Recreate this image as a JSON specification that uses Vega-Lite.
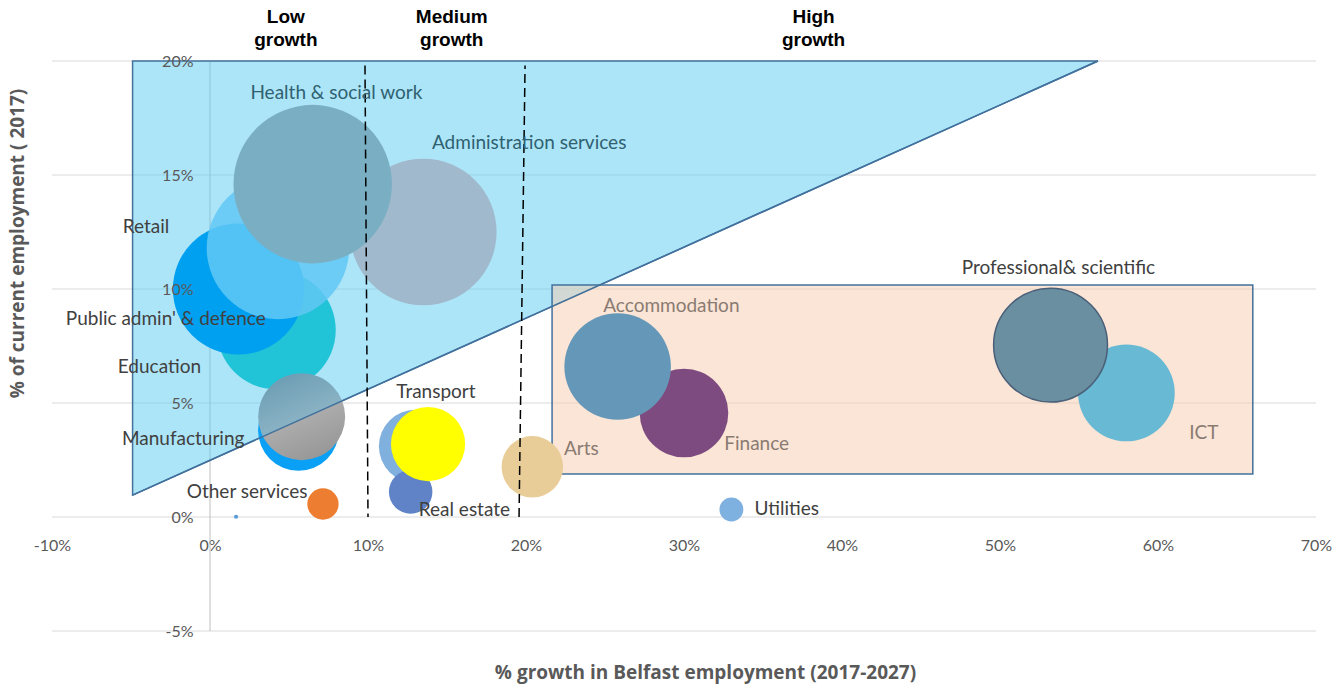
{
  "$schema": "https://vega.github.io/schema/vega-lite/v6.json",
  "width": 1264,
  "height": 570,
  "autosize": {"type": "none"},
  "padding": {"left": 52, "top": 61, "right": 19, "bottom": 53},
  "background": "white",
  "config": {
    "view": {"stroke": null},
    "axisX": {
      "format": ".0%",
      "labelExpr": "replace(datum.label, '\u2212', '-')",
      "offset": -114,
      "grid": false,
      "domain": false,
      "ticks": false,
      "tickSize": 0,
      "labelFlush": false,
      "labelOverlap": false,
      "labelPadding": 20,
      "labelFont": "Lato",
      "labelFontSize": 16,
      "labelColor": "#595959",
      "titleFont": "Open Sans",
      "titleFontSize": 19,
      "titleFontWeight": "bold",
      "titleColor": "#595959",
      "titleX": 653,
      "titleY": 155,
      "titleAlign": "center",
      "titleBaseline": "middle"
    },
    "axisY": {
      "format": ".0%",
      "labelExpr": "replace(datum.label, '\u2212', '-')",
      "offset": -158,
      "grid": false,
      "domain": false,
      "ticks": false,
      "tickSize": 0,
      "labelFlush": false,
      "labelOverlap": false,
      "labelPadding": 17,
      "labelFont": "Lato",
      "labelFontSize": 16,
      "labelColor": "#595959",
      "titleFont": "Open Sans",
      "titleFontSize": 19,
      "titleFontWeight": "bold",
      "titleColor": "#595959",
      "titleAngle": -90,
      "titleX": -193,
      "titleY": 182,
      "titleAlign": "center",
      "titleBaseline": "middle"
    }
  },
  "datasets": {
    "gridY": [
      {"y": -0.05}, {"y": 0}, {"y": 0.05}, {"y": 0.1}, {"y": 0.15}, {"y": 0.2}
    ],
    "zeroX": [
      {"x": 0}
    ],
    "bubbles": [
      {"sector": "Education", "growth": 0.042, "share": 0.082},
      {"sector": "Public admin' & defence", "growth": 0.018, "share": 0.100},
      {"sector": "Retail", "growth": 0.043, "share": 0.118},
      {"sector": "Administration services", "growth": 0.135, "share": 0.125},
      {"sector": "Health & social work", "growth": 0.065, "share": 0.146},
      {"sector": "Manufacturing", "growth": 0.056, "share": 0.038},
      {"sector": "Transport", "growth": 0.130, "share": 0.031},
      {"sector": "Real estate", "growth": 0.127, "share": 0.011},
      {"sector": "Transport (series 2)", "growth": 0.138, "share": 0.032},
      {"sector": "Other services", "growth": 0.0715, "share": 0.0057},
      {"sector": "Unlabelled", "growth": 0.0165, "share": 0.0001},
      {"sector": "Arts", "growth": 0.204, "share": 0.022},
      {"sector": "Utilities", "growth": 0.330, "share": 0.0033},
      {"sector": "Finance", "growth": 0.300, "share": 0.0456},
      {"sector": "Accommodation", "growth": 0.258, "share": 0.066},
      {"sector": "ICT", "growth": 0.580, "share": 0.0544},
      {"sector": "Professional & scientific", "growth": 0.532, "share": 0.0754}
    ],
    "textured": [
      {"sector": "Manufacturing (series 2)", "growth": 0.058, "share": 0.044}
    ],
    "triangle": [
      {"x": -0.049, "top": 0.2, "bottom": 0.0096},
      {"x": 0.562, "top": 0.2, "bottom": 0.2}
    ],
    "edge": [
      {"x": -0.049, "y": 0.0096},
      {"x": 0.562, "y": 0.2}
    ],
    "box": [
      {"x1": 0.2165, "x2": 0.660, "y1": 0.0189, "y2": 0.1018}
    ],
    "dividers": [
      {"line": "a", "x": 0.0981, "y": 0.198},
      {"line": "a", "x": 0.1000, "y": 0.0},
      {"line": "b", "x": 0.1994, "y": 0.198},
      {"line": "b", "x": 0.1956, "y": 0.0}
    ],
    "labels": [
      {"label": "Health & social work", "lx": 0.080, "ly": 0.186, "zone": "triangle"},
      {"label": "Administration services", "lx": 0.202, "ly": 0.164, "zone": "triangle"},
      {"label": "Retail", "lx": -0.0405, "ly": 0.127, "zone": "none"},
      {"label": "Public admin' & defence", "lx": -0.028, "ly": 0.087, "zone": "none"},
      {"label": "Education", "lx": -0.032, "ly": 0.066, "zone": "none"},
      {"label": "Manufacturing", "lx": -0.017, "ly": 0.034, "zone": "none"},
      {"label": "Transport", "lx": 0.143, "ly": 0.055, "zone": "none"},
      {"label": "Other services", "lx": 0.0235, "ly": 0.011, "zone": "none"},
      {"label": "Real estate", "lx": 0.161, "ly": 0.003, "zone": "none"},
      {"label": "Arts", "lx": 0.235, "ly": 0.030, "zone": "rect"},
      {"label": "Accommodation", "lx": 0.292, "ly": 0.0925, "zone": "rect"},
      {"label": "Finance", "lx": 0.346, "ly": 0.032, "zone": "rect"},
      {"label": "Utilities", "lx": 0.365, "ly": 0.0035, "zone": "none"},
      {"label": "Professional& scientific", "lx": 0.537, "ly": 0.109, "zone": "none"},
      {"label": "ICT", "lx": 0.629, "ly": 0.037, "zone": "rect"}
    ],
    "headers": [
      {"text": "Low\ngrowth", "hx": 0.048, "hy": 0.2193},
      {"text": "Medium\ngrowth", "hx": 0.153, "hy": 0.2193},
      {"text": "High\ngrowth", "hx": 0.382, "hy": 0.2193}
    ]
  },
  "layer": [
    {
      "data": {"name": "gridY"},
      "mark": {"type": "rule", "stroke": "#D9D9D9", "strokeWidth": 1},
      "encoding": {
        "y": {"field": "y", "type": "quantitative", "title": "% of current employment ( 2017)",
          "scale": {"domain": [-0.05, 0.2], "nice": false, "zero": false},
          "axis": {"values": [-0.05, 0, 0.05, 0.1, 0.15, 0.2], "zindex": 2}}
      }
    },
    {
      "data": {"name": "zeroX"},
      "mark": {"type": "rule", "stroke": "#BFBFBF", "strokeWidth": 1},
      "encoding": {
        "x": {"field": "x", "type": "quantitative", "title": "% growth in Belfast employment (2017-2027)",
          "scale": {"domain": [-0.1, 0.7], "nice": false, "zero": false},
          "axis": {"values": [-0.1, 0, 0.1, 0.2, 0.3, 0.4, 0.5, 0.6, 0.7]}}
      }
    },
    {
      "data": {"name": "triangle"},
      "mark": {"type": "area", "fill": "#5CCBF2", "fillOpacity": 0.5, "stroke": "#41719C", "strokeWidth": 1.5},
      "encoding": {
        "x": {"field": "x", "type": "quantitative", "title": "% growth in Belfast employment (2017-2027)",
          "scale": {"domain": [-0.1, 0.7], "nice": false, "zero": false}},
        "y": {"field": "top", "type": "quantitative", "title": "% of current employment ( 2017)",
          "scale": {"domain": [-0.05, 0.2], "nice": false, "zero": false}},
        "y2": {"field": "bottom"}
      }
    },
    {
      "data": {"name": "box"},
      "mark": {"type": "rect", "fill": "#F7CBAD", "fillOpacity": 0.5, "stroke": "#41719C", "strokeWidth": 1.5},
      "encoding": {
        "x": {"field": "x1", "type": "quantitative", "title": "% growth in Belfast employment (2017-2027)", "scale": {"domain": [-0.1, 0.7], "nice": false, "zero": false}},
        "x2": {"field": "x2"},
        "y": {"field": "y1", "type": "quantitative", "title": "% of current employment ( 2017)", "scale": {"domain": [-0.05, 0.2], "nice": false, "zero": false}},
        "y2": {"field": "y2"}
      }
    },
    {
      "data": {"name": "bubbles"},
      "mark": {"type": "circle", "strokeWidth": 0},
      "encoding": {
        "x": {"field": "growth", "type": "quantitative", "title": "% growth in Belfast employment (2017-2027)", "scale": {"domain": [-0.1, 0.7], "nice": false, "zero": false}},
        "y": {"field": "share", "type": "quantitative", "title": "% of current employment ( 2017)", "scale": {"domain": [-0.05, 0.2], "nice": false, "zero": false}},
        "size": {"field": "share", "type": "quantitative", "scale": {"type": "linear", "domain": [0, 0.2], "range": [0, 34400]}, "legend": null},
        "color": {
          "field": "sector", "type": "nominal", "legend": null,
          "scale": {
            "domain": ["Education", "Public admin' & defence", "Retail", "Administration services", "Health & social work", "Manufacturing", "Transport", "Real estate", "Transport (series 2)", "Other services", "Unlabelled", "Arts", "Utilities", "Finance", "Accommodation", "ICT", "Professional & scientific"],
            "range": ["#21C3D6", "#00A0F0", "#62C8F5", "#A0B9CC", "#7AAFC3", "#0AA0F5", "#7FB0DE", "#5F83C6", "#FFFF00", "#ED7D31", "#5B9BD5", "#E8CD98", "#7EB1DF", "#7D4B7F", "#6597B8", "#68B9D4", "#6A8FA1"]
          }
        },
        "opacity": {"condition": {"test": "datum.sector === 'Retail'", "value": 0.85}, "value": 1}
      }
    },
    {
      "data": {"name": "textured"},
      "mark": {
        "type": "circle", "opacity": 1, "strokeWidth": 0,
        "fill": {"gradient": "linear", "x1": 0.3, "y1": 0.05, "x2": 0.7, "y2": 0.95,
          "stops": [
            {"offset": 0, "color": "#6F9FB5"},
            {"offset": 0.53, "color": "#8AB2C4"},
            {"offset": 0.53, "color": "#ABABAB"},
            {"offset": 1, "color": "#989898"}
          ]}
      },
      "encoding": {
        "x": {"field": "growth", "type": "quantitative", "title": "% growth in Belfast employment (2017-2027)", "scale": {"domain": [-0.1, 0.7], "nice": false, "zero": false}},
        "y": {"field": "share", "type": "quantitative", "title": "% of current employment ( 2017)", "scale": {"domain": [-0.05, 0.2], "nice": false, "zero": false}},
        "size": {"field": "share", "type": "quantitative", "legend": null}
      }
    },
    {
      "data": {"name": "bubbles"},
      "transform": [{"filter": "datum.sector === 'Professional & scientific'"}],
      "mark": {"type": "point", "filled": false, "opacity": 1, "stroke": "#4A5F78", "strokeWidth": 1.5},
      "encoding": {
        "x": {"field": "growth", "type": "quantitative", "title": "% growth in Belfast employment (2017-2027)", "scale": {"domain": [-0.1, 0.7], "nice": false, "zero": false}},
        "y": {"field": "share", "type": "quantitative", "title": "% of current employment ( 2017)", "scale": {"domain": [-0.05, 0.2], "nice": false, "zero": false}},
        "size": {"field": "share", "type": "quantitative", "legend": null}
      }
    },
    {
      "data": {"name": "edge"},
      "mark": {"type": "line", "stroke": "#41719C", "strokeWidth": 1.5},
      "encoding": {
        "x": {"field": "x", "type": "quantitative", "title": "% growth in Belfast employment (2017-2027)", "scale": {"domain": [-0.1, 0.7], "nice": false, "zero": false}},
        "y": {"field": "y", "type": "quantitative", "title": "% of current employment ( 2017)", "scale": {"domain": [-0.05, 0.2], "nice": false, "zero": false}}
      }
    },
    {
      "data": {"name": "dividers"},
      "mark": {"type": "line", "stroke": "#000000", "strokeWidth": 1.5, "strokeDash": [9, 5]},
      "encoding": {
        "x": {"field": "x", "type": "quantitative", "title": "% growth in Belfast employment (2017-2027)", "scale": {"domain": [-0.1, 0.7], "nice": false, "zero": false}},
        "y": {"field": "y", "type": "quantitative", "title": "% of current employment ( 2017)", "scale": {"domain": [-0.05, 0.2], "nice": false, "zero": false}},
        "detail": {"field": "line", "type": "nominal"}
      }
    },
    {
      "data": {"name": "labels"},
      "mark": {"type": "text", "font": "Lato", "fontSize": 19, "align": "center", "baseline": "middle"},
      "encoding": {
        "x": {"field": "lx", "type": "quantitative", "title": "% growth in Belfast employment (2017-2027)", "scale": {"domain": [-0.1, 0.7], "nice": false, "zero": false}},
        "y": {"field": "ly", "type": "quantitative", "title": "% of current employment ( 2017)", "scale": {"domain": [-0.05, 0.2], "nice": false, "zero": false}},
        "text": {"field": "label"},
        "color": {"field": "zone", "type": "nominal", "legend": null,
          "scale": {"domain": ["triangle", "rect", "none"], "range": ["#2F6171", "#8A7B72", "#404040"]}}
      }
    },
    {
      "data": {"name": "headers"},
      "mark": {"type": "text", "font": "Liberation Sans", "fontSize": 19, "fontWeight": "bold", "align": "center", "baseline": "middle", "lineBreak": "\n", "lineHeight": 23, "color": "#000000"},
      "encoding": {
        "x": {"field": "hx", "type": "quantitative", "title": "% growth in Belfast employment (2017-2027)", "scale": {"domain": [-0.1, 0.7], "nice": false, "zero": false}},
        "y": {"field": "hy", "type": "quantitative", "title": "% of current employment ( 2017)", "scale": {"domain": [-0.05, 0.2], "nice": false, "zero": false}},
        "text": {"field": "text"}
      }
    }
  ],
  "resolve": {"scale": {"color": "independent"}}
}
